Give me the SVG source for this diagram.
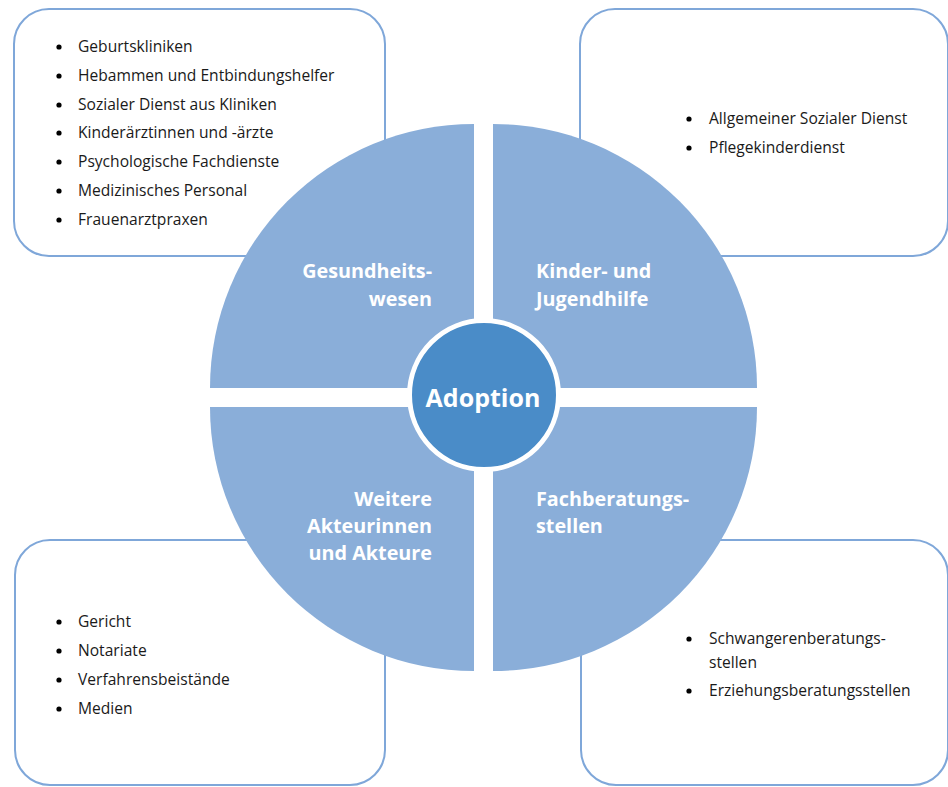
<svg xmlns="http://www.w3.org/2000/svg" width="948" height="787" viewBox="0 0 948 787">
<style>
.box{fill:#ffffff;stroke:#7fa7d9;stroke-width:2}
.q{fill:#8aaed9}
.lt{font-family:"Open Sans","Noto Sans","Liberation Sans",sans-serif;font-size:15.6px;fill:#1a1a1a}
.ql{font-family:"Open Sans","Noto Sans","Liberation Sans",sans-serif;font-size:19.8px;font-weight:bold;fill:#ffffff}
.dot{fill:#000000}
</style>
<rect width="948" height="787" fill="#ffffff"/>
<g id="box-gesundheit">
<rect class="box" x="14" y="9" width="371" height="247" rx="35"/>
<circle class="dot" cx="59" cy="47" r="2.6"/><text class="lt" x="78" y="52">Geburtskliniken</text>
<circle class="dot" cx="59" cy="76" r="2.6"/><text class="lt" x="78" y="81">Hebammen und Entbindungshelfer</text>
<circle class="dot" cx="59" cy="105" r="2.6"/><text class="lt" x="78" y="110">Sozialer Dienst aus Kliniken</text>
<circle class="dot" cx="59" cy="133" r="2.6"/><text class="lt" x="78" y="138">Kinderärztinnen und -ärzte</text>
<circle class="dot" cx="59" cy="162" r="2.6"/><text class="lt" x="78" y="167">Psychologische Fachdienste</text>
<circle class="dot" cx="59" cy="191" r="2.6"/><text class="lt" x="78" y="196">Medizinisches Personal</text>
<circle class="dot" cx="59" cy="220" r="2.6"/><text class="lt" x="78" y="225">Frauenarztpraxen</text>
</g>
<g id="box-jugendhilfe">
<rect class="box" x="580" y="9" width="368" height="247" rx="35"/>
<circle class="dot" cx="689" cy="119" r="2.6"/><text class="lt" x="709" y="124">Allgemeiner Sozialer Dienst</text>
<circle class="dot" cx="689" cy="148" r="2.6"/><text class="lt" x="709" y="153">Pflegekinderdienst</text>
</g>
<g id="box-weitere">
<rect class="box" x="15" y="540" width="370" height="245" rx="35"/>
<circle class="dot" cx="59" cy="622" r="2.6"/><text class="lt" x="78" y="627">Gericht</text>
<circle class="dot" cx="59" cy="651" r="2.6"/><text class="lt" x="78" y="656">Notariate</text>
<circle class="dot" cx="59" cy="680" r="2.6"/><text class="lt" x="78" y="685">Verfahrensbeistände</text>
<circle class="dot" cx="59" cy="709" r="2.6"/><text class="lt" x="78" y="714">Medien</text>
</g>
<g id="box-fachberatung">
<rect class="box" x="581" y="540" width="367" height="245" rx="35"/>
<circle class="dot" cx="689" cy="639" r="2.6"/><text class="lt" x="709" y="644">Schwangerenberatungs-</text>
<text class="lt" x="709" y="668">stellen</text>
<circle class="dot" cx="689" cy="691" r="2.6"/><text class="lt" x="709" y="696">Erziehungsberatungsstellen</text>
</g>
<g id="q-gesundheit">
<path class="q" d="M474,388 L210,388 A264,264 0 0 1 474,124 Z"/>
<text class="ql" text-anchor="end" x="432" y="278">Gesundheits-</text>
<text class="ql" text-anchor="end" x="432" y="306">wesen</text>
</g>
<g id="q-jugendhilfe">
<path class="q" d="M493,388 L493,124 A264,264 0 0 1 757,388 Z"/>
<text class="ql" x="536" y="278">Kinder- und</text>
<text class="ql" x="536" y="306">Jugendhilfe</text>
</g>
<g id="q-weitere">
<path class="q" d="M474,407 L474,671 A264,264 0 0 1 210,407 Z"/>
<text class="ql" text-anchor="end" x="432" y="506">Weitere</text>
<text class="ql" text-anchor="end" x="432" y="533">Akteurinnen</text>
<text class="ql" text-anchor="end" x="432" y="560">und Akteure</text>
</g>
<g id="q-fachberatung">
<path class="q" d="M493,407 L757,407 A264,264 0 0 1 493,671 Z"/>
<text class="ql" x="536" y="506">Fachberatungs-</text>
<text class="ql" x="536" y="533">stellen</text>
</g>
<g id="connectors"></g>
<g id="center-adoption">
<circle cx="484" cy="395" r="74.5" fill="#4a8cc8" stroke="#ffffff" stroke-width="5"/>
<text x="483" y="407" text-anchor="middle" font-family="'Open Sans','Noto Sans','Liberation Sans',sans-serif" font-size="25" font-weight="bold" fill="#ffffff">Adoption</text>
</g>
</svg>
